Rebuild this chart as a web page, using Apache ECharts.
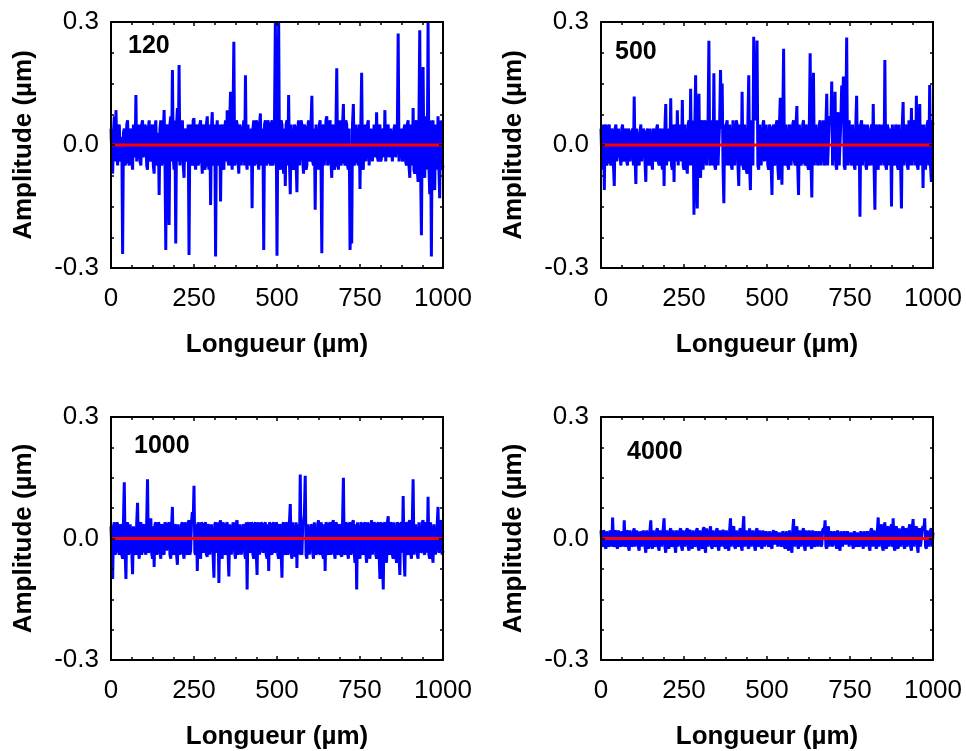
<!DOCTYPE html>
<html><head><meta charset="utf-8">
<script src="https://cdn.jsdelivr.net/npm/echarts@6/dist/echarts.min.js"></script>
<style>html,body{margin:0;padding:0;background:#fff}#c{width:966px;height:751px}</style>
</head><body><div id="c"></div>
<script>
// sampling positions along the profile (µm): one value every 2.5 µm from 0 to 1000
const sampleStep = 2.5;
const panelTitles = ["120", "500", "1000", "4000"];
const xTicks = [0, 250, 500, 750, 1000];
const yTicks = [-0.3, 0.0, 0.3];
const baselineX = [0, 1000];
const baselineY = [0, 0];

const amp120 = [
 0.04,-0.03,-0.07,0.03,0.07,-0.04,0.085,-0.02,-0.05,0.03,0.05,-0.04,-0.03,0.02,-0.266,0.03,0.04,-0.05,-0.04,0.05,
 0.06,-0.04,-0.05,0.04,0.03,-0.03,-0.06,0.05,0.05,-0.03,0.122,-0.04,-0.04,0.03,0.05,-0.04,-0.05,0.05,0.06,-0.03,
 -0.03,0.05,0.04,-0.05,-0.06,0.04,0.06,-0.03,-0.04,0.03,0.05,-0.05,-0.07,0.04,0.06,-0.04,-0.05,0.03,-0.122,0.04,
 0.06,-0.05,-0.04,0.03,0.085,-0.03,-0.256,0.04,0.05,-0.05,-0.195,0.05,0.07,-0.04,0.183,-0.03,-0.06,0.06,-0.24,0.05,
 0.09,-0.04,0.195,-0.05,-0.05,0.04,0.06,-0.05,-0.08,0.03,0.04,-0.03,-0.04,0.05,-0.268,0.04,0.05,-0.04,-0.05,0.06,
 0.065,-0.04,-0.06,0.04,0.05,-0.05,-0.04,0.05,0.06,-0.03,-0.07,0.04,0.05,-0.06,-0.05,0.05,0.07,-0.04,-0.06,0.05,
 -0.146,0.04,0.08,-0.04,-0.05,0.05,-0.272,0.03,0.06,-0.05,-0.04,0.05,-0.138,0.04,0.05,-0.05,-0.06,0.04,0.06,-0.04,
 0.085,-0.04,-0.05,0.05,0.13,-0.03,-0.06,0.06,0.252,-0.05,-0.04,0.06,0.05,-0.04,-0.07,0.05,0.04,-0.05,-0.05,0.04,
 0.06,-0.05,0.17,-0.04,-0.06,0.05,0.05,-0.04,-0.05,0.04,-0.154,0.04,0.06,-0.05,-0.04,0.06,0.05,-0.04,-0.06,0.05,
 0.077,-0.04,-0.05,0.04,-0.256,0.05,0.06,-0.05,-0.04,0.06,0.05,-0.04,-0.05,0.05,0.06,-0.05,-0.04,0.06,0.3,0.05,
 -0.27,0.04,0.3,-0.05,-0.06,0.06,0.05,-0.04,-0.07,0.04,-0.10,0.05,0.06,-0.05,0.122,-0.04,-0.12,0.05,0.05,-0.05,
 -0.06,0.05,0.04,-0.04,-0.115,0.04,0.06,-0.05,-0.05,0.06,0.05,-0.04,-0.07,0.05,0.04,-0.06,-0.05,0.04,0.06,-0.03,
 -0.04,0.05,0.12,-0.04,-0.05,0.04,-0.158,0.05,0.05,-0.04,-0.06,0.05,0.06,-0.05,-0.264,0.04,0.05,-0.05,-0.05,0.06,
 0.07,-0.05,-0.04,0.05,0.06,-0.04,-0.08,0.04,0.05,-0.06,-0.05,0.04,0.187,-0.04,-0.06,0.05,0.06,-0.05,-0.04,0.05,
 0.10,-0.04,-0.05,0.06,0.05,-0.05,-0.06,0.04,-0.256,-0.20,-0.24,0.05,0.10,-0.05,-0.04,0.05,0.05,-0.04,-0.05,0.05,
 -0.107,0.05,0.176,-0.05,-0.06,0.04,0.05,-0.04,-0.04,0.05,0.06,-0.05,-0.05,0.04,0.04,-0.04,-0.04,0.05,0.05,-0.03,
 0.08,-0.03,-0.04,0.04,0.05,-0.04,-0.03,0.03,0.04,-0.03,0.085,-0.04,-0.04,0.04,0.05,-0.03,-0.03,0.04,0.04,-0.04,
 -0.04,0.04,0.05,-0.03,-0.03,0.04,0.272,-0.04,-0.04,0.03,0.04,-0.04,-0.03,0.04,0.05,-0.04,-0.05,0.05,0.06,-0.05,
 -0.08,0.05,0.05,-0.05,0.09,-0.06,-0.07,0.05,0.06,-0.06,-0.09,0.06,0.28,-0.06,-0.22,0.05,0.19,-0.06,-0.08,0.06,
 0.07,-0.06,0.30,-0.05,-0.12,0.06,-0.272,0.05,0.06,-0.07,-0.11,0.05,0.05,-0.06,0.07,-0.05,-0.13,0.06,0.06,-0.06,
 -0.05
];
const amp500 = [
 0.04,-0.04,-0.06,0.05,-0.11,0.04,0.05,-0.05,-0.04,0.04,0.05,-0.04,-0.05,0.04,0.03,-0.05,-0.10,0.04,0.05,-0.04,
 -0.04,0.04,0.04,-0.03,-0.05,0.04,0.05,-0.04,-0.03,0.03,0.04,-0.04,-0.05,0.04,0.03,-0.04,-0.04,0.03,0.04,-0.05,
 0.118,-0.03,-0.095,0.04,0.04,-0.04,-0.05,0.03,0.05,-0.04,-0.04,0.04,0.03,-0.04,-0.09,0.03,0.04,-0.04,-0.05,0.04,
 0.04,-0.04,-0.06,0.04,0.03,-0.03,-0.04,0.04,0.05,-0.04,-0.05,0.03,0.04,-0.04,-0.06,0.04,-0.10,0.04,0.10,-0.05,
 -0.05,0.04,0.04,-0.04,0.114,-0.05,-0.06,0.05,-0.09,0.04,0.05,-0.04,0.085,-0.05,-0.05,0.05,0.04,-0.04,0.11,-0.05,
 -0.06,0.05,0.05,-0.05,-0.07,0.05,0.06,-0.05,0.137,-0.05,-0.05,0.06,-0.17,0.04,0.17,-0.06,-0.155,0.05,0.125,-0.06,
 -0.08,0.05,0.06,-0.06,-0.06,0.06,0.05,-0.05,-0.05,0.06,0.254,-0.05,-0.04,0.06,0.06,-0.05,0.175,-0.05,-0.06,0.05,
 0.06,-0.05,-0.05,0.06,0.183,0.04,0.15,-0.05,-0.142,0.05,-0.05,0.05,0.06,-0.05,-0.04,0.05,0.05,-0.05,-0.06,0.06,
 0.06,-0.05,-0.05,0.06,0.05,-0.05,-0.10,0.05,0.04,-0.05,0.13,-0.05,-0.06,0.05,0.05,-0.06,-0.07,0.06,0.17,-0.05,
 -0.11,0.05,0.06,-0.05,0.264,0.06,0.10,0.06,0.255,-0.05,-0.06,0.05,0.05,-0.05,-0.05,0.05,0.06,-0.04,-0.04,0.05,
 0.05,-0.05,-0.06,0.05,0.04,-0.05,-0.122,0.04,0.05,-0.05,-0.04,0.05,0.06,-0.05,-0.085,0.05,0.115,-0.04,-0.097,0.06,
 0.235,-0.04,-0.05,0.05,0.05,-0.05,-0.06,0.05,0.04,-0.05,-0.05,0.05,0.06,-0.04,-0.05,0.05,0.095,-0.05,-0.122,0.05,
 0.05,-0.05,-0.04,0.05,0.06,-0.04,-0.05,0.05,0.04,-0.05,-0.06,0.05,0.224,-0.04,-0.128,0.06,0.176,-0.05,-0.05,0.05,
 0.05,-0.05,-0.04,0.05,0.06,-0.05,-0.05,0.04,0.06,-0.05,-0.04,0.05,0.125,-0.05,-0.05,0.06,0.07,0.05,0.155,-0.05,
 -0.05,0.05,0.13,-0.05,-0.06,0.06,0.08,-0.05,-0.05,0.06,0.145,0.06,0.167,-0.05,-0.06,0.06,0.262,-0.05,-0.05,0.06,
 0.06,-0.05,-0.04,0.05,0.05,-0.05,-0.06,0.05,0.12,-0.04,-0.05,0.05,-0.175,0.05,0.06,-0.05,-0.05,0.05,0.04,-0.05,
 -0.06,0.05,0.05,-0.05,-0.04,0.04,0.05,-0.05,0.10,-0.05,-0.158,0.05,0.04,-0.05,-0.06,0.05,0.04,-0.05,-0.05,0.05,
 0.05,-0.05,0.207,-0.05,-0.06,0.05,0.04,-0.05,-0.05,0.04,-0.15,0.05,0.05,-0.05,-0.04,0.05,0.04,-0.05,-0.06,0.05,
 0.05,-0.05,-0.155,0.05,0.105,-0.05,-0.05,0.05,0.04,-0.05,-0.06,0.06,0.06,-0.05,0.09,-0.05,-0.05,0.05,0.06,-0.05,
 0.12,-0.05,-0.06,0.05,0.10,-0.05,-0.05,0.05,-0.105,0.05,0.05,-0.06,-0.06,0.05,0.06,-0.05,0.146,-0.05,-0.09,0.06,
 0.05
];
const amp1000 = [
 0.03,-0.03,-0.10,0.03,0.04,-0.04,-0.03,0.04,0.035,-0.03,-0.04,0.035,0.03,-0.04,-0.05,0.04,0.139,-0.03,-0.10,0.035,
 0.04,-0.04,-0.03,0.035,0.035,-0.03,-0.088,0.03,0.03,-0.035,-0.04,0.04,0.088,-0.03,-0.05,0.035,0.04,-0.04,-0.03,0.03,
 0.035,-0.03,-0.04,0.04,0.146,-0.035,-0.03,0.04,0.05,-0.035,-0.05,0.03,-0.07,0.035,0.04,-0.04,-0.03,0.04,0.035,-0.035,
 -0.05,0.035,0.03,-0.035,-0.04,0.04,0.035,-0.03,-0.03,0.035,0.04,-0.04,-0.05,0.03,0.078,-0.035,-0.04,0.035,0.03,-0.04,
 -0.065,0.035,0.035,-0.04,-0.03,0.035,0.04,-0.035,-0.05,0.04,0.03,-0.035,-0.04,0.04,0.045,-0.04,-0.03,0.04,0.065,0.04,
 0.13,-0.035,-0.04,0.035,-0.08,0.04,0.03,-0.04,-0.05,0.04,0.035,-0.035,-0.03,0.035,0.04,-0.04,-0.045,0.035,0.03,-0.04,
 -0.04,0.035,0.035,-0.04,-0.097,0.035,0.04,-0.035,-0.03,0.04,-0.11,0.035,0.045,-0.04,-0.05,0.04,0.03,-0.035,-0.04,0.035,
 0.04,-0.035,-0.094,0.035,0.035,-0.04,-0.04,0.04,0.03,-0.035,-0.05,0.04,0.045,-0.04,-0.03,0.035,0.035,-0.04,-0.04,0.035,
 0.03,-0.035,-0.05,0.04,-0.126,0.035,0.04,-0.035,-0.03,0.04,0.035,-0.04,-0.05,0.035,0.04,-0.035,-0.09,0.04,0.03,-0.04,
 -0.04,0.04,0.035,-0.035,-0.03,0.035,0.04,-0.04,-0.05,0.035,-0.08,0.04,0.035,-0.035,-0.04,0.035,0.04,-0.035,-0.03,0.04,
 0.035,-0.04,-0.05,0.035,0.03,-0.035,-0.097,0.035,0.04,-0.035,-0.04,0.04,0.035,-0.04,-0.03,0.04,0.085,-0.035,-0.05,0.04,
 0.04,-0.035,-0.045,0.04,-0.073,0.035,0.035,-0.04,0.158,-0.035,-0.04,0.035,0.04,0.06,0.155,-0.04,-0.05,0.035,0.035,-0.04,
 -0.04,0.035,0.03,-0.035,-0.05,0.04,0.04,-0.04,-0.035,0.035,0.045,-0.035,-0.04,0.04,0.03,-0.04,-0.05,0.035,-0.08,0.04,
 0.035,-0.035,-0.04,0.035,0.04,-0.04,-0.03,0.04,0.045,-0.035,-0.05,0.04,0.035,-0.035,-0.04,0.035,0.03,-0.04,-0.045,0.04,
 0.15,-0.035,-0.04,0.04,0.035,-0.035,-0.05,0.035,0.04,-0.04,-0.03,0.04,0.045,-0.035,-0.06,0.035,-0.126,0.04,0.04,-0.035,
 -0.05,0.04,0.035,-0.035,-0.04,0.035,0.04,-0.035,-0.06,0.04,0.03,-0.04,-0.05,0.035,0.045,-0.04,-0.04,0.04,0.035,-0.04,
 -0.05,0.035,0.04,-0.035,-0.10,0.04,0.035,-0.04,-0.126,0.035,0.04,-0.04,-0.06,0.04,0.055,-0.035,-0.04,0.04,0.035,-0.04,
 -0.05,0.04,0.04,-0.035,-0.06,0.04,0.035,-0.04,-0.09,0.035,0.04,-0.035,0.105,-0.035,-0.094,0.04,0.035,-0.035,-0.04,0.04,
 0.045,-0.035,-0.05,0.04,0.146,-0.04,-0.04,0.035,0.035,-0.04,-0.05,0.04,0.04,-0.035,-0.03,0.04,0.045,-0.035,-0.04,0.04,
 0.035,-0.035,0.103,-0.04,-0.05,0.04,0.04,-0.035,-0.06,0.035,0.035,-0.04,-0.04,0.035,0.078,-0.035,-0.03,0.04,0.045,-0.04,
 -0.03
];
const amp4000 = [
 0.02,-0.015,-0.02,0.02,0.015,-0.02,-0.025,0.018,0.02,-0.02,-0.015,0.02,0.018,-0.02,0.052,-0.015,-0.02,0.02,0.015,-0.02,
 -0.025,0.02,0.02,-0.02,-0.015,0.018,0.022,-0.02,0.045,-0.015,-0.02,0.02,0.015,-0.02,-0.03,0.02,0.02,-0.02,-0.015,0.018,
 0.025,-0.02,-0.02,0.02,0.018,-0.02,-0.03,0.018,0.015,-0.02,-0.02,0.02,0.022,-0.02,-0.035,0.02,0.02,-0.025,-0.015,0.02,
 0.045,-0.02,-0.025,0.02,0.02,-0.02,-0.015,0.02,0.025,-0.02,-0.03,0.02,0.018,-0.02,-0.02,0.025,0.05,-0.02,-0.035,0.02,
 0.02,-0.02,-0.025,0.02,0.025,-0.02,-0.015,0.02,0.02,-0.02,-0.035,0.02,0.022,-0.02,-0.02,0.02,0.025,-0.02,-0.03,0.02,
 0.02,-0.02,-0.02,0.02,0.025,-0.02,-0.03,0.022,0.018,-0.02,-0.025,0.02,0.022,-0.02,-0.015,0.02,0.025,-0.02,-0.03,0.02,
 0.02,-0.02,-0.025,0.022,0.028,-0.02,-0.035,0.025,0.022,-0.02,-0.02,0.02,0.03,-0.02,-0.025,0.02,0.02,-0.02,-0.015,0.02,
 0.025,-0.02,-0.03,0.02,0.02,-0.02,-0.02,0.022,0.025,-0.02,-0.025,0.02,0.018,-0.02,-0.03,0.022,0.05,-0.02,-0.02,0.025,
 0.03,-0.02,-0.025,0.02,0.02,-0.02,-0.015,0.02,0.025,-0.02,-0.03,0.025,0.055,-0.02,-0.02,0.02,0.022,-0.02,-0.025,0.025,
 0.028,-0.02,-0.02,0.02,0.02,-0.02,-0.03,0.02,0.025,-0.02,-0.015,0.02,0.02,-0.02,-0.025,0.02,0.018,-0.02,-0.02,0.018,
 0.015,-0.015,-0.02,0.018,0.018,-0.02,-0.025,0.015,0.02,-0.015,-0.015,0.018,0.015,-0.02,-0.02,0.015,0.018,-0.02,-0.015,0.018,
 0.02,-0.02,-0.025,0.018,0.015,-0.02,-0.03,0.02,0.022,-0.02,-0.035,0.02,0.048,-0.02,-0.02,0.022,0.03,-0.02,-0.025,0.02,
 0.02,-0.02,-0.02,0.02,0.025,-0.02,-0.03,0.02,0.018,-0.02,-0.02,0.02,0.022,-0.02,-0.025,0.02,0.02,-0.02,-0.015,0.018,
 0.018,-0.02,-0.02,0.018,0.02,-0.02,-0.015,0.02,0.025,0.02,0.045,-0.02,-0.025,0.02,0.03,-0.02,-0.02,0.018,0.015,-0.02,
 -0.02,0.018,0.015,-0.015,-0.025,0.02,0.02,-0.02,-0.03,0.018,0.015,-0.02,-0.02,0.018,0.018,-0.015,-0.015,0.018,0.02,-0.02,
 -0.02,0.015,0.015,-0.015,-0.025,0.018,0.012,-0.015,-0.02,0.015,0.018,-0.02,-0.015,0.018,0.02,-0.015,-0.025,0.018,0.015,-0.02,
 -0.02,0.018,0.02,-0.02,-0.03,0.02,0.025,-0.02,-0.02,0.02,0.022,-0.02,-0.025,0.02,0.052,-0.02,-0.02,0.025,0.035,-0.02,
 -0.03,0.025,0.04,-0.02,-0.025,0.025,0.03,-0.02,-0.02,0.025,0.035,-0.02,0.05,-0.02,-0.03,0.025,0.03,-0.02,-0.025,0.025,
 0.025,-0.02,-0.02,0.025,0.03,-0.02,-0.025,0.025,0.02,-0.02,-0.02,0.025,0.035,-0.02,-0.03,0.025,0.048,-0.02,-0.02,0.025,
 0.03,-0.02,-0.035,0.02,0.025,-0.02,-0.02,0.025,0.03,0.02,0.05,-0.02,-0.025,0.02,0.02,-0.02,-0.02,0.02,0.025,-0.02,
 0.015
];
const panelData = [amp120, amp500, amp1000, amp4000];

const chart = echarts.init(document.getElementById('c'), null, {renderer: 'canvas'});
const FONT = 'Liberation Sans, Arial, sans-serif';
const grids = [
  {left: 111, top: 22, width: 332, height: 246},
  {left: 601, top: 22, width: 332, height: 246},
  {left: 111, top: 417, width: 332, height: 247},
  {left: 601, top: 417, width: 332, height: 247}
];
const titlePos = [[128, 46], [615, 52], [134, 446], [627, 452]];

const xAxes = [], yAxes = [], series = [], graphics = [];
grids.forEach((g, i) => {
  const common = {
    gridIndex: i, type: 'value', z: 10,
    axisLine: {show: true, onZero: false, lineStyle: {color: '#000', width: 2}},
    axisTick: {show: true, inside: true, length: 4, lineStyle: {color: '#000', width: 1.5}},
    minorTick: {show: true, splitNumber: 4, length: 3, lineStyle: {color: '#000', width: 1.5}},
    splitLine: {show: false}, minorSplitLine: {show: false}
  };
  xAxes.push(Object.assign({}, common, {
    position: 'bottom', min: xTicks[0], max: xTicks[xTicks.length - 1], interval: xTicks[1] - xTicks[0],
    axisLabel: {show: true, color: '#000', fontSize: 26, fontFamily: FONT, margin: 18, formatter: v => String(v)},
    name: 'Longueur (µm)', nameLocation: 'middle', nameGap: 64,
    nameTextStyle: {color: '#000', fontSize: 26, fontWeight: 'bold', fontFamily: FONT}
  }));
  xAxes.push(Object.assign({}, common, {
    position: 'top', min: xTicks[0], max: xTicks[xTicks.length - 1], interval: xTicks[1] - xTicks[0],
    axisLabel: {show: false}
  }));
  yAxes.push(Object.assign({}, common, {
    position: 'left', min: yTicks[0], max: yTicks[yTicks.length - 1], interval: yTicks[1] - yTicks[0],
    axisLabel: {show: true, color: '#000', fontSize: 26, fontFamily: FONT, margin: 12,
      formatter: v => v.toFixed(1)},
    name: 'Amplitude (µm)', nameLocation: 'middle', nameGap: 74, nameRotate: 90,
    nameTextStyle: {color: '#000', fontSize: 26, fontWeight: 'bold', fontFamily: FONT}
  }));
  yAxes.push(Object.assign({}, common, {
    position: 'right', min: yTicks[0], max: yTicks[yTicks.length - 1], interval: yTicks[1] - yTicks[0],
    axisLabel: {show: false}
  }));
  const pts = panelData[i].map((v, k) => [k * sampleStep, v]);
  series.push({
    type: 'line', xAxisIndex: 2 * i, yAxisIndex: 2 * i, data: pts, showSymbol: false, symbol: 'none',
    lineStyle: {color: '#0000ff', width: 3}, animation: false, z: 2, clip: true
  });
  series.push({
    type: 'line', xAxisIndex: 2 * i, yAxisIndex: 2 * i,
    data: baselineX.map((x, k) => [x, baselineY[k]]), showSymbol: false, symbol: 'none',
    lineStyle: {color: '#ff0000', width: 3}, animation: false, z: 3
  });
  graphics.push({
    type: 'text', x: titlePos[i][0], y: titlePos[i][1], z: 20,
    style: {text: panelTitles[i], fill: '#000', font: 'bold 25px ' + FONT, textVerticalAlign: 'middle', verticalAlign: 'middle'}
  });
});

chart.setOption({
  animation: false,
  backgroundColor: '#fff',
  grid: grids,
  xAxis: xAxes,
  yAxis: yAxes,
  series: series,
  graphic: graphics
});
</script></body></html>
